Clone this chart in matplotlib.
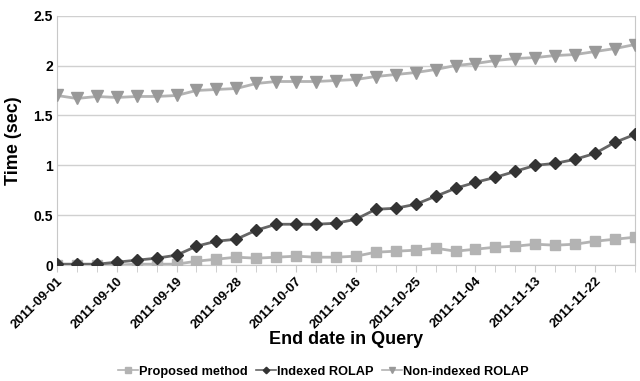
import numpy as np
import matplotlib
matplotlib.use('Agg')
import matplotlib.pyplot as plt

plt.rcParams['font.family'] = ['Liberation Sans', 'DejaVu Sans']
plt.rcParams['font.weight'] = 'bold'
plt.rcParams['axes.labelweight'] = 'bold'

# category labels (every third point is labelled)
tick_labels = ['2011-09-01', '2011-09-10', '2011-09-19', '2011-09-28', '2011-10-07',
               '2011-10-16', '2011-10-25', '2011-11-04', '2011-11-13', '2011-11-22']

proposed = [0.00, 0.00, 0.00, 0.00, 0.01, 0.01, 0.01, 0.04, 0.06, 0.08,
            0.07, 0.08, 0.09, 0.08, 0.08, 0.09, 0.13, 0.14, 0.15, 0.17,
            0.14, 0.16, 0.18, 0.19, 0.21, 0.20, 0.21, 0.24, 0.26, 0.28]
indexed = [0.01, 0.01, 0.01, 0.03, 0.05, 0.07, 0.10, 0.19, 0.24, 0.26,
           0.35, 0.41, 0.41, 0.41, 0.42, 0.46, 0.56, 0.57, 0.61, 0.69,
           0.77, 0.83, 0.88, 0.94, 1.00, 1.02, 1.06, 1.12, 1.23, 1.31]
non_indexed = [1.70, 1.67, 1.69, 1.68, 1.69, 1.69, 1.70, 1.75, 1.76, 1.77,
               1.82, 1.84, 1.84, 1.84, 1.85, 1.86, 1.89, 1.91, 1.93, 1.96,
               2.00, 2.02, 2.05, 2.07, 2.08, 2.10, 2.11, 2.14, 2.17, 2.21]

x = np.arange(len(indexed))

fig = plt.figure(figsize=(6.4, 3.81), dpi=100)
ax = fig.add_axes([0.089, 0.304, 0.903, 0.655])

ax.plot(x, proposed, color='#b3b3b3', lw=2, marker='s', ms=7.5,
        mfc='#b3b3b3', mec='#b3b3b3', label='Proposed method', zorder=3)
ax.plot(x, indexed, color='#666666', lw=2, marker='D', ms=6,
        mfc='#333333', mec='#333333', label='Indexed ROLAP', zorder=4)
ax.plot(x, non_indexed, color='#b3b3b3', lw=2, marker='v', ms=8.5,
        mfc='#999999', mec='#999999', label='Non-indexed ROLAP', zorder=3)

ax.set_xlim(0, len(x) - 1)
ax.set_ylim(0, 2.5)
ax.set_yticks([0, 0.5, 1, 1.5, 2, 2.5])
ax.set_yticklabels(['0', '0.5', '1', '1.5', '2', '2.5'])
ax.set_xticks(x, minor=True)
ax.set_xticks(x[::3])
ax.set_xticklabels(tick_labels, rotation=45, ha='right', rotation_mode='anchor', fontsize=9.5)
ax.tick_params(axis='y', length=0, labelsize=10, pad=3)
ax.tick_params(axis='x', which='both', length=5, color='#c8c8c8', pad=2)

ax.grid(axis='y', color='#d0d0d0', lw=1)
ax.set_axisbelow(True)
for s in ax.spines.values():
    s.set_color('#c8c8c8')
ax.spines['top'].set_visible(False)

ax.set_ylabel('Time (sec)', fontsize=13, labelpad=8)
ax.set_xlabel('End date in Query', fontsize=13, labelpad=0)

leg = fig.legend(loc='center', ncol=3, frameon=False, fontsize=9.2,
                 bbox_to_anchor=(0.505, 0.024), handlelength=1.6, handletextpad=0.1,
                 columnspacing=0.6, markerscale=0.55)
for h in leg.legend_handles:
    h.set_linewidth(1.2)

fig.savefig('out.png', dpi=100)
